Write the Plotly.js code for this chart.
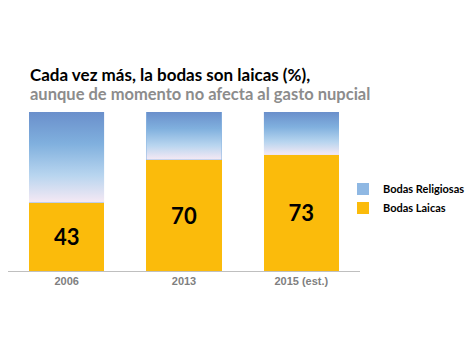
<!DOCTYPE html>
<html><head><meta charset="utf-8">
<script src="https://cdn.plot.ly/plotly-3.0.1.min.js"></script>
<style>html,body{margin:0;padding:0;background:#fff}#chart{width:470px;height:350px}</style>
</head><body><div id="chart"></div>
<script>
const categories = ['2006', '2013', '2015 (est.)'];
const laicas = [43, 70, 73];
const religiosas = [57, 30, 27];
const seriesNames = ['Bodas Laicas', 'Bodas Religiosas'];
const titleText = 'Cada vez más, la bodas son laicas (%),';
const subtitleText = 'aunque de momento no afecta al gasto nupcial';

const W = 470, H = 350;
const M = {l: 8, r: 110, t: 112, b: 79, autoexpand: false};
const plotW = W - M.l - M.r, plotH = H - M.t - M.b;
const px2x = p => (p - M.l) / plotW;
const px2y = p => (H - M.b - p) / plotH;

const bargap = 0.358;
const barW = 1 - bargap;

const gradSvg = "<svg xmlns='http://www.w3.org/2000/svg' width='10' height='100' preserveAspectRatio='none'>" +
  "<defs><linearGradient id='g' x1='0' y1='0' x2='0' y2='1'>" +
  "<stop offset='0' stop-color='#6a8fcb'/>" +
  "<stop offset='0.35' stop-color='#80b0de'/>" +
  "<stop offset='0.7' stop-color='#b8d5ef'/>" +
  "<stop offset='1' stop-color='#f6e9f4'/>" +
  "</linearGradient></defs><rect width='10' height='100' fill='url(#g)'/></svg>";
const gradSrc = 'data:image/svg+xml;charset=utf-8,' + encodeURIComponent(gradSvg);

const images = categories.map((c, i) => ({
  source: gradSrc, xref: 'x', yref: 'y',
  x: i - barW / 2, y: laicas[i] + religiosas[i],
  sizex: barW, sizey: religiosas[i],
  xanchor: 'left', yanchor: 'top', sizing: 'stretch', layer: 'above'
}));

const traces = [
  {
    type: 'bar', x: categories, y: laicas, name: seriesNames[0],
    marker: {color: '#fbbb0b'},
    texttemplate: '<b>%{y}</b>', textposition: 'inside', insidetextanchor: 'middle',
    textfont: {family: 'Lato, sans-serif', size: 22, color: '#000000'},
    hoverinfo: 'none'
  },
  {
    type: 'bar', x: categories, y: religiosas, name: seriesNames[1],
    marker: {color: '#8fb8e3'},
    hoverinfo: 'none'
  }
];

const layout = {
  width: W, height: H,
  margin: M,
  paper_bgcolor: '#ffffff', plot_bgcolor: '#ffffff',
  barmode: 'stack', bargap: bargap,
  showlegend: true,
  legend: {
    x: px2x(343), y: px2y(198.5), xanchor: 'left', yanchor: 'middle',
    font: {family: 'Lato, sans-serif', size: 11, color: '#000000', weight: 'bold'},
    itemwidth: 30, bgcolor: 'rgba(0,0,0,0)'
  },
  xaxis: {
    type: 'category', showline: true, linecolor: '#bfbfbf', linewidth: 1,
    showgrid: false, zeroline: false, ticks: '',
    tickfont: {family: 'Liberation Sans, Arial, sans-serif', size: 11, color: '#7f7f7f', weight: 'bold'}
  },
  yaxis: {range: [0, 100], visible: false, showgrid: false, zeroline: false},
  images: images,
  annotations: [
    {text: '<b>' + titleText + '</b>', xref: 'paper', yref: 'paper', x: px2x(28), y: px2y(74),
     xanchor: 'left', yanchor: 'middle', showarrow: false,
     font: {family: 'Lato, sans-serif', size: 17, color: '#000000'}},
    {text: '<b>' + subtitleText + '</b>', xref: 'paper', yref: 'paper', x: px2x(28), y: px2y(94),
     xanchor: 'left', yanchor: 'middle', showarrow: false,
     font: {family: 'Lato, sans-serif', size: 16.5, color: '#8c8c8c'}}
  ]
};

Plotly.newPlot('chart', traces, layout, {displayModeBar: false, staticPlot: true});
</script>
</body></html>
